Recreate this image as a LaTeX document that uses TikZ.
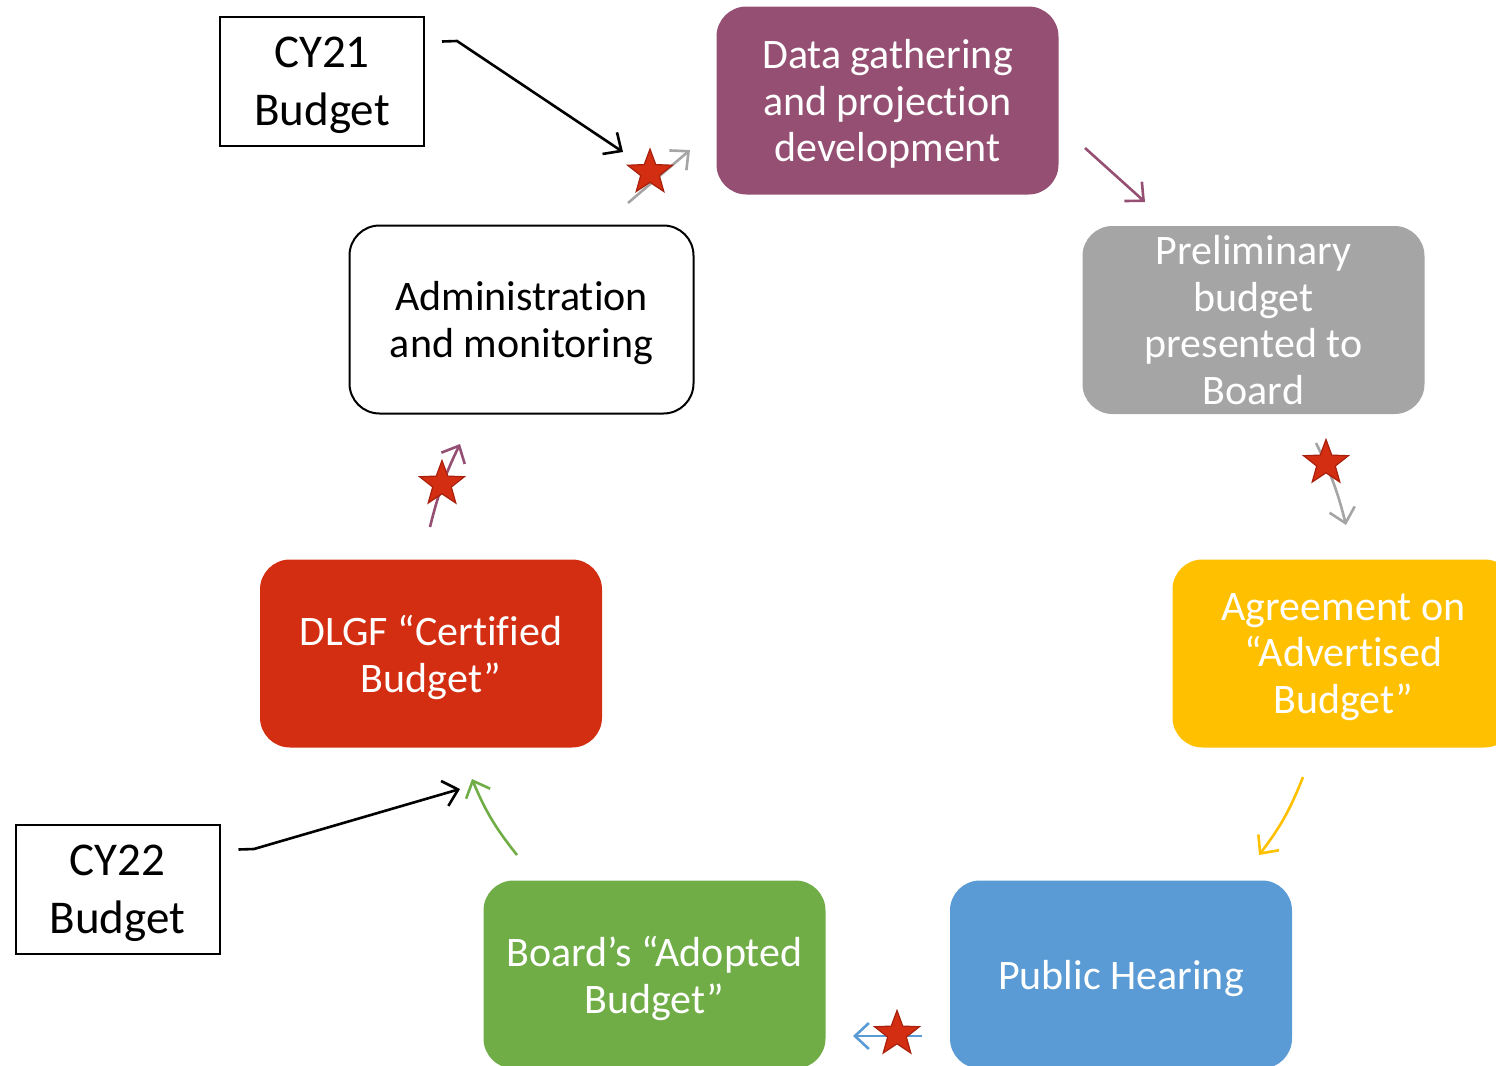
\documentclass[tikz,border=0pt]{standalone}
\usepackage{fontspec}
\setmainfont{Carlito}[Ligatures=NoCommon]
\usepackage{xcolor}
\usetikzlibrary{arrows.meta}
\usetikzlibrary{shapes.geometric}

\definecolor{dataPurple}{HTML}{954F72}
\definecolor{prelimGray}{HTML}{A5A5A5}
\definecolor{agreeYellow}{HTML}{FFC000}
\definecolor{hearingBlue}{HTML}{5B9BD5}
\definecolor{adoptGreen}{HTML}{70AD47}
\definecolor{certRed}{HTML}{D42E12}
\definecolor{starEdge}{HTML}{A8200C}

\tikzset{
  stage/.style={rounded corners=15pt, minimum width=171pt, minimum height=94pt,
    align=center, text=white, inner sep=0pt, text depth=0pt,
    font=\fontsize{21}{23.4}\selectfont},
  yearbox/.style={draw, line width=1pt, minimum width=102pt, minimum height=64.5pt,
    align=center, inner sep=0pt, text depth=0pt, font=\fontsize{23.5}{29}\selectfont},
  flow/.style={line width=1.3pt, -{Straight Barb[length=7pt,width=13pt]}},
  marker/.style={star, star points=5, star point ratio=2.4, fill=certRed,
    draw=starEdge, line width=0.6pt, minimum size=23.5pt, inner sep=0pt}
}

\begin{document}
\begin{tikzpicture}[x=0.5pt,y=-0.5pt]
    \useasboundingbox (0,0) rectangle (1496,1066);
    \node[stage, fill=dataPurple] (data) at (887.5,100.5) {Data gathering\\and projection\\development};
    \node[stage, fill=prelimGray] (prelim) at (1253.5,320) {Preliminary\\budget\\presented to\\Board};
    \node[stage, fill=agreeYellow] (agree) at (1343.5,653.5) {Agreement on\\“Advertised\\Budget”};
    \node[stage, fill=hearingBlue] (hearing) at (1121,974.5) {Public Hearing};
    \node[stage, fill=adoptGreen] (adopt) at (654.5,974.5) {Board’s “Adopted\\Budget”};
    \node[stage, fill=certRed] (cert) at (431,653.5) {DLGF “Certified\\Budget”};
    \node[stage, draw=black, fill=white, text=black, line width=1pt,
      minimum width=172pt] (admin) at (521.5,319.5) {Administration\\and monitoring};
    \node[yearbox] (cy21) at (322,81.5) {CY21\\Budget};
    \node[yearbox] (cy22) at (117.5,889.5) {CY22\\Budget};

    \coordinate (a1s) at (628,203);  \coordinate (a1e) at (690,150);
    \coordinate (a2s) at (1085,148); \coordinate (a2e) at (1145,202);
    \coordinate (a3s) at (1316,443); \coordinate (a3e) at (1346,525);
    \coordinate (a4s) at (1303,777); \coordinate (a4e) at (1259,855);
    \coordinate (a5s) at (922,1036); \coordinate (a5e) at (853,1036);
    \coordinate (a6s) at (517,855);  \coordinate (a6e) at (472,779);
    \coordinate (a7s) at (430,527);  \coordinate (a7e) at (460,444);
    \coordinate (k21) at (457,41);   \coordinate (k21e) at (623,152);
    \coordinate (k22) at (254,849);  \coordinate (k22e) at (460,789);

    \draw[flow, prelimGray] (a1s) -- (a1e);
    \draw[flow, dataPurple] (a2s) -- (a2e);
    \draw[flow, prelimGray] (a3s) to[bend left=6] (a3e);
    \draw[flow, agreeYellow] (a4s) to[bend left=8] (a4e);
    \draw[flow, hearingBlue] (a5s) -- (a5e);
    \draw[flow, adoptGreen] (a6s) to[bend left=8] (a6e);
    \draw[flow, dataPurple] (a7s) to[bend left=6] (a7e);
    \draw[flow, black] (cy21.east) ++(17,-40) -- (k21) -- (k21e);
    \draw[flow, black] (cy22.east) ++(18,-40) -- (k22) -- (k22e);

    \node[marker] (s1) at (650,172.5) {};
    \node[marker] (s2) at (1326,463) {};
    \node[marker] (s3) at (897,1034) {};
    \node[marker] (s4) at (442,484) {};
\end{tikzpicture}
\end{document}
